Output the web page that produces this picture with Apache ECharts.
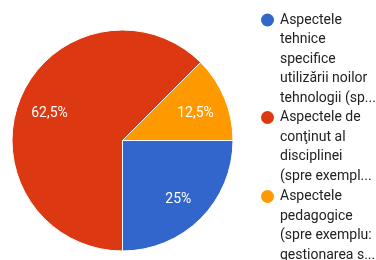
<!DOCTYPE html>
<html>
<head>
<meta charset="utf-8">
<script src="https://cdn.jsdelivr.net/npm/echarts@6/dist/echarts.min.js"></script>
<style>
  html, body { margin: 0; padding: 0; background: #fff; }
  #chart { width: 376px; height: 260px; }
</style>
</head>
<body>
<div id="chart"></div>
<script>
// legend text, as shown (already wrapped + cut)
const legendLines = [
  ["Aspectele", "tehnice", "specifice", "utilizării noilor", "tehnologii (sp..."],
  ["Aspectele de", "conţinut al", "disciplinei", "(spre exempl..."],
  ["Aspectele", "pedagogice", "(spre exemplu:", "gestionarea s..."]
];
const categories = legendLines.map((l) => l.join(" "));
const values = [25, 62.5, 12.5];
const colors = ["#3366cc", "#dc3912", "#ff9900"];

const chart = echarts.init(document.getElementById("chart"));

const LH = 19.5;
const rich = {
  t: { fontSize: 14, color: "#222", lineHeight: LH, fontFamily: "Roboto" },
  g: { width: 6, lineHeight: LH },
  s: { width: 19, lineHeight: LH },
};
colors.forEach((c, i) => {
  rich["d" + i] = { width: 13, height: 13, borderRadius: 6.5, backgroundColor: c, lineHeight: LH };
});

const pieData = categories.map((name, i) => ({ name: name, value: values[i] }));

// one legend per entry so each block sits where the reference has it
const legendTops = [13, 110.5, 189.5];
const legends = categories.map((name, i) => ({
  orient: "vertical",
  left: 255,
  top: legendTops[i],
  padding: 0,
  itemWidth: 0,
  itemHeight: 0,
  textGap: 0,
  selectedMode: false,
  data: [name],
  formatter: (n) =>
    legendLines[i]
      .map((ln, k) => (k === 0 ? "{d" + i + "|}{g|}{t|" + ln + "}" : "{s|}{t|" + ln + "}"))
      .join("\n"),
  textStyle: { rich: rich },
}));

chart.setOption({
  animation: false,
  color: colors,
  textStyle: { fontFamily: "Roboto" },
  legend: legends,
  series: [
    {
      type: "pie",
      center: [122.5, 140.5],
      radius: 110.5,
      startAngle: 0,
      clockwise: true,
      itemStyle: { borderColor: "#fff", borderWidth: 1 },
      label: { show: false },
      labelLine: { show: false },
      emphasis: { disabled: true },
      data: pieData,
    },
    {
      // invisible copy only to push the % labels out to ~0.7 radius
      type: "pie",
      center: [122.5, 140.5],
      radius: 152,
      startAngle: 0,
      clockwise: true,
      silent: true,
      itemStyle: { color: "transparent" },
      label: {
        show: true,
        position: "inside",
        color: "#fff",
        fontSize: 14,
        fontFamily: "Roboto",
        offset: [0, 3],
        formatter: (p) => String(p.value).replace(".", ",") + "%",
      },
      labelLine: { show: false },
      emphasis: { disabled: true },
      data: pieData,
    },
  ],
});
</script>
</body>
</html>
